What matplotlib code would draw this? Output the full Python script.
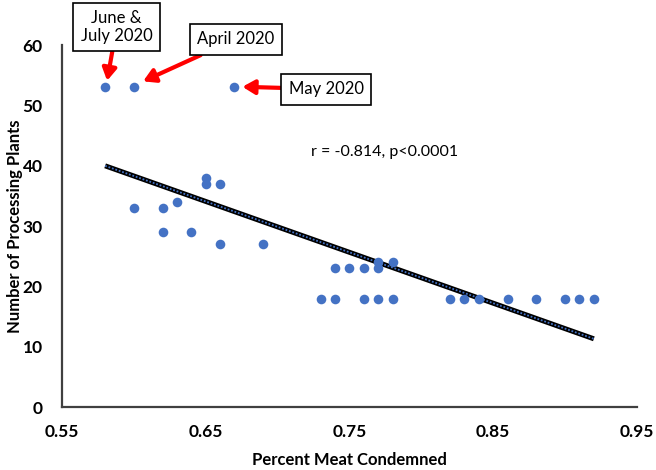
import numpy as np
import matplotlib
matplotlib.use("Agg")
import matplotlib.pyplot as plt

plt.rcParams['font.family'] = ['Lato', 'DejaVu Sans']

# Percent meat condemned vs number of processing plants
pct_condemned = [0.58, 0.60, 0.67,
                 0.60, 0.62, 0.63, 0.65, 0.65, 0.66, 0.62, 0.64, 0.66, 0.69,
                 0.74, 0.75, 0.76, 0.77, 0.77, 0.78,
                 0.73, 0.74, 0.76, 0.77, 0.78, 0.82, 0.83, 0.84, 0.86, 0.88,
                 0.90, 0.91, 0.92]
n_plants = [53, 53, 53,
            33, 33, 34, 38, 37, 37, 29, 29, 27, 27,
            23, 23, 23, 23, 24, 24,
            18, 18, 18, 18, 18, 18, 18, 18, 18, 18,
            18, 18, 18]

x_ticks = [0.55, 0.65, 0.75, 0.85, 0.95]
y_ticks = [0, 10, 20, 30, 40, 50, 60]
stats_label = "r = -0.814, p<0.0001"

x = np.array(pct_condemned)
y = np.array(n_plants)

fig = plt.figure(figsize=(6.56, 4.70), dpi=100)
ax = fig.add_axes([0.0945, 0.1334, 0.8765, 0.7706])

ax.scatter(x, y, s=48, color="#4472C4", zorder=3, linewidths=0)

# linear trendline
slope, intercept = np.polyfit(x, y, 1)
xs = np.array([x.min(), x.max()])
ax.plot(xs, slope * xs + intercept, color="black", lw=3.6, zorder=2,
        solid_capstyle="butt")
ax.plot(xs, slope * xs + intercept, color="#4472C4", lw=1.3, ls=(0, (1, 1)),
        zorder=2)

ax.set_xlim(0.55, 0.95)
ax.set_ylim(0, 60)
ax.set_xticks(x_ticks)
ax.set_yticks(y_ticks)
ax.set_xticklabels([f"{t:.2f}" for t in x_ticks], fontweight="bold", fontsize=12.5)
ax.set_yticklabels([str(t) for t in y_ticks], fontweight="bold", fontsize=12.5)
ax.tick_params(length=0)
ax.tick_params(axis="x", pad=12)
ax.tick_params(axis="y", pad=14)

for side in ["top", "right"]:
    ax.spines[side].set_visible(False)
for side in ["left", "bottom"]:
    ax.spines[side].set_color("#404040")
    ax.spines[side].set_linewidth(1.6)

ax.set_xlabel("Percent Meat Condemned", fontweight="bold", fontsize=12, labelpad=9)
ax.set_ylabel("Number of Processing Plants", fontweight="bold", fontsize=12,
              va="center")
ax.yaxis.set_label_coords(-0.082, 0.5)

ax.text(0.7747, 42.3, stats_label, fontsize=11.5, ha="center", va="center")

box = dict(boxstyle="square,pad=0.45", fc="white", ec="black", lw=1.2)
arrow = dict(arrowstyle="-|>,head_length=0.6,head_width=0.35", color="#FF0000",
             lw=3, shrinkA=0, shrinkB=0)

ax.annotate("June &\nJuly 2020", xy=(0.5814, 54.1), xytext=(0.588, 63.0),
            ha="center", va="center", fontsize=12, bbox=box,
            arrowprops=arrow, annotation_clip=False, linespacing=1.1)
ax.annotate("April 2020", xy=(0.6064, 54.0), xytext=(0.671, 61.0),
            ha="center", va="center", fontsize=12, bbox=box,
            arrowprops=arrow, annotation_clip=False)
ax.annotate("May 2020", xy=(0.6755, 53.1), xytext=(0.734, 52.7),
            ha="center", va="center", fontsize=12, bbox=box,
            arrowprops=arrow, annotation_clip=False)

fig.savefig("out.png", dpi=100)
